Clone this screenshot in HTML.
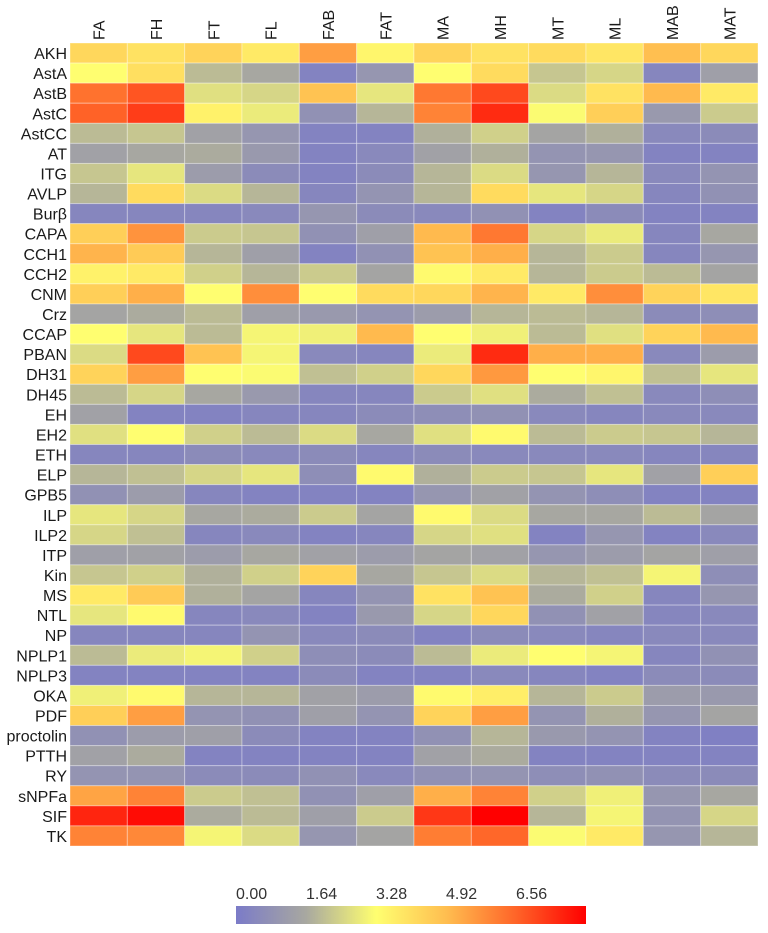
<!DOCTYPE html>
<html><head><meta charset="utf-8">
<style>
html,body{margin:0;padding:0;background:#fff;}
svg{display:block;font-family:"Liberation Sans",sans-serif;}
</style></head>
<body>
<svg id="chart" width="768" height="933" viewBox="0 0 768 933" xmlns="http://www.w3.org/2000/svg">
<g id="cells"></g>
<g id="rowlabels"></g>
<g id="collabels"></g>
<g id="legend"></g>
</svg>
<script>
const columns = ["FA","FH","FT","FL","FAB","FAT","MA","MH","MT","ML","MAB","MAT"];
const rows = ["AKH","AstA","AstB","AstC","AstCC","AT","ITG","AVLP","Burβ","CAPA","CCH1","CCH2","CNM","Crz","CCAP","PBAN","DH31","DH45","EH","EH2","ETH","ELP","GPB5","ILP","ILP2","ITP","Kin","MS","NTL","NP","NPLP1","NPLP3","OKA","PDF","proctolin","PTTH","RY","sNPFa","SIF","TK"];
const values = [
[4.3,4.0,4.4,3.8,5.5,3.5,4.4,4.0,4.2,3.9,4.9,4.3],
[3.3,4.1,2.0,1.6,0.3,1.0,3.3,4.2,2.2,2.5,0.4,1.3],
[6.3,6.8,2.7,2.5,4.8,2.8,6.2,7.0,2.6,4.0,5.0,3.8],
[6.6,7.2,3.6,2.9,0.8,1.9,6.0,7.5,3.2,4.5,1.1,2.3],
[2.0,2.2,1.4,1.0,0.3,0.3,1.8,2.4,1.5,1.8,0.5,0.6],
[1.4,1.6,1.7,1.1,0.3,0.5,1.4,1.8,0.9,1.0,0.3,0.3],
[2.2,2.8,1.2,0.6,0.3,0.6,1.9,2.6,1.0,1.9,0.5,0.9],
[1.9,4.2,2.6,1.9,0.4,0.9,1.9,4.2,2.8,2.5,0.4,0.8],
[0.4,0.4,0.4,0.5,1.0,0.6,0.5,0.8,0.3,0.6,0.3,0.3],
[4.5,5.7,2.3,2.2,0.8,1.3,5.0,6.2,2.5,2.9,0.4,1.6],
[5.1,4.6,1.9,1.3,0.3,0.8,4.8,5.2,1.9,2.3,0.4,1.0],
[3.6,3.8,2.4,1.9,2.3,1.5,3.4,3.8,1.9,2.3,2.0,1.5],
[4.5,5.2,3.3,5.8,3.3,4.2,4.3,5.1,3.8,5.8,4.4,3.9],
[1.5,1.7,2.0,1.3,1.1,0.9,1.2,1.9,2.0,1.9,0.6,0.7],
[3.3,2.8,2.0,3.1,3.0,5.0,3.3,3.0,2.0,2.7,4.4,5.0],
[2.6,7.0,4.8,3.1,0.5,0.4,2.9,7.5,5.2,5.2,0.5,1.2],
[4.4,5.5,3.3,3.2,2.1,2.4,4.3,5.6,3.3,3.5,2.1,2.8],
[2.0,2.5,1.6,1.1,0.4,0.4,2.3,2.7,1.7,2.1,0.5,0.7],
[1.4,0.3,0.3,0.4,0.4,0.6,0.7,0.8,0.5,0.4,0.5,0.5],
[2.7,3.3,2.4,2.0,2.6,1.6,2.7,3.4,2.0,2.3,2.2,1.9],
[0.4,0.4,0.6,0.5,0.6,0.4,0.6,0.5,0.5,0.5,0.4,0.4],
[1.9,2.1,2.5,2.8,0.7,3.4,1.8,2.3,2.2,2.8,1.4,4.5],
[0.8,1.2,0.4,0.3,0.3,0.3,1.0,1.4,0.9,0.7,0.3,0.3],
[2.8,2.5,1.6,1.7,2.3,1.5,3.4,2.6,1.6,1.6,2.0,1.5],
[2.5,2.1,0.4,0.5,0.3,0.4,2.5,2.7,0.3,1.0,0.3,0.5],
[1.3,1.4,1.2,1.6,1.4,1.2,1.5,1.4,1.0,1.2,1.5,1.3],
[2.2,2.4,1.8,2.4,4.4,1.6,2.2,2.6,1.9,2.1,3.1,0.7],
[3.8,4.6,1.8,1.5,0.4,0.9,4.0,4.8,1.7,2.4,0.4,1.0],
[2.8,3.4,0.4,0.5,0.3,1.1,2.5,4.3,0.8,1.4,0.4,0.5],
[0.4,0.4,0.4,0.9,0.5,0.6,0.3,0.6,0.5,0.4,0.5,0.5],
[2.0,2.9,3.1,2.4,0.7,0.6,2.0,2.9,3.3,3.1,0.4,0.8],
[0.3,0.3,0.3,0.3,0.6,0.3,0.3,0.5,0.4,0.3,0.6,0.6],
[3.0,3.4,1.9,1.9,1.4,1.2,3.4,3.7,1.9,2.3,1.2,1.1],
[4.5,5.5,0.9,0.8,1.3,0.9,4.4,5.5,0.9,1.8,1.0,1.5],
[0.8,1.2,1.3,0.6,0.3,0.3,0.8,1.9,1.1,0.9,0.3,0.2],
[1.4,1.7,0.3,0.3,0.3,0.3,1.4,1.7,0.3,0.3,0.3,0.3],
[0.9,0.9,0.6,0.6,0.8,0.5,0.8,0.9,0.7,0.8,0.6,0.6],
[5.4,6.0,2.3,2.1,0.8,1.3,5.2,6.0,2.4,3.0,1.0,1.6],
[7.6,8.0,1.7,2.0,1.3,2.3,7.3,8.2,1.9,3.1,0.9,2.5],
[6.0,5.9,3.1,2.6,1.0,1.5,6.1,6.5,3.2,3.8,1.0,1.9]
];
const legendTicks = ["0.00","1.64","3.28","4.92","6.56"];
const legendMax = 8.2;

const NS="http://www.w3.org/2000/svg";
const X0=70, X1=758, Y0=43, Y1=846;
const cw=(X1-X0)/columns.length, rh=(Y1-Y0)/rows.length;
const xPos=i=>X0+i*cw, yPos=j=>Y0+j*rh;
const stops=[[0,[123,123,200]],[1.64,[168,168,160]],[3.28,[255,255,112]],[4.92,[255,190,80]],[6.56,[255,100,40]],[8.2,[255,0,0]]];
function color(v){
  v=Math.max(0,Math.min(8.2,v));
  for(let k=0;k<stops.length-1;k++){
    const [a,ca]=stops[k],[b,cb]=stops[k+1];
    if(v<=b){const t=(v-a)/(b-a);
      return "rgb("+ca.map((c,i)=>Math.round(c+(cb[i]-c)*t)).join(",")+")";}
  }
  return "rgb(255,0,0)";
}
function mk(tag,attrs,parent){const e=document.createElementNS(NS,tag);for(const k in attrs)e.setAttribute(k,attrs[k]);parent.appendChild(e);return e;}
const gc=document.getElementById('cells');
rows.forEach((r,j)=>{columns.forEach((c,i)=>{
  const rc=mk('rect',{x:xPos(i),y:yPos(j),width:cw,height:rh,fill:color(values[j][i]),stroke:"rgba(255,255,255,0.35)","stroke-width":1},gc);
  
  
});});
const gr=document.getElementById('rowlabels');
rows.forEach((r,j)=>{
  const t=mk('text',{x:67,y:yPos(j)+rh/2+6,"text-anchor":"end","font-size":"16",fill:"#1a1a1a"},gr);
  t.textContent=r;
  
  
});
const gcl=document.getElementById('collabels');
columns.forEach((c,i)=>{
  const cx=xPos(i)+cw/2+6;
  const t=mk('text',{x:cx,y:40,transform:"rotate(-90 "+cx+" 40)","font-size":"16",fill:"#1a1a1a"},gcl);
  t.textContent=c;
  
  
});
const gl=document.getElementById('legend');
const LX0=236, LX1=586, LY=906, LH=18;
const defs=mk('defs',{},gl);
const grad=mk('linearGradient',{id:"lg",x1:"0",x2:"1",y1:"0",y2:"0"},defs);
stops.forEach(s=>{mk('stop',{offset:(s[0]/legendMax),"stop-color":"rgb("+s[1].join(",")+")"},grad);});
const bar=mk('rect',{x:LX0,y:LY,width:LX1-LX0,height:LH,fill:"url(#lg)"},gl);


legendTicks.forEach((tk,k)=>{
  const x=LX0+parseFloat(tk)/legendMax*(LX1-LX0);
  const t=mk('text',{x:x,y:899,"font-size":"16",fill:"#333"},gl);
  t.textContent=tk;
  
  
});
</script>
</body></html>
